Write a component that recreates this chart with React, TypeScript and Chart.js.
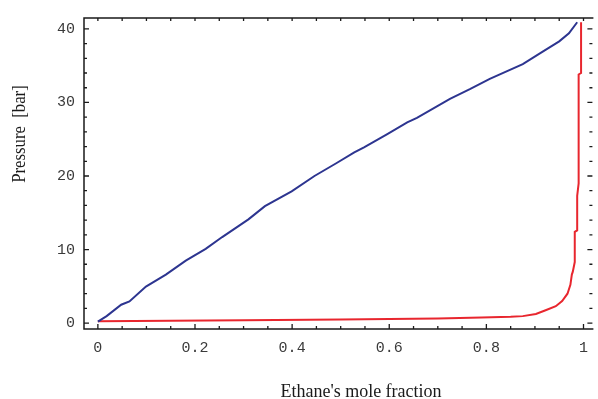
import React, { useEffect, useRef } from "react";
import { Chart, registerables } from "chart.js";

Chart.register(...registerables);

// Blue curve — x: ethane mole fraction, y: pressure [bar]
const blueX = [0, 0.018, 0.048, 0.065, 0.099, 0.14, 0.181, 0.222, 0.256, 0.31, 0.344, 0.399, 0.446, 0.49, 0.528, 0.548, 0.596, 0.637, 0.657, 0.725, 0.766, 0.807, 0.875, 0.916, 0.95, 0.97, 0.987];
const blueY = [0.2, 0.95, 2.5, 2.95, 4.97, 6.6, 8.5, 10.1, 11.7, 14.1, 15.9, 17.9, 20.0, 21.7, 23.2, 23.9, 25.7, 27.3, 27.9, 30.5, 31.8, 33.2, 35.2, 36.9, 38.3, 39.4, 40.9];

// Red curve
const redX = [0, 0.3, 0.5, 0.7, 0.79, 0.85, 0.875, 0.902, 0.922, 0.943, 0.956, 0.967, 0.973, 0.976, 0.978, 0.982, 0.982, 0.987, 0.987, 0.99, 0.99, 0.995, 0.995];
const redY = [0.25, 0.4, 0.5, 0.63, 0.75, 0.85, 0.95, 1.25, 1.75, 2.3, 3.0, 4.0, 5.2, 6.6, 7.0, 8.3, 12.4, 12.6, 17.3, 19, 33.8, 34, 40.9];

const xTicks = [0, 0.2, 0.4, 0.6, 0.8, 1];
const xTickLabels = ["0", "0.2", "0.4", "0.6", "0.8", "1"];
const yTicks = [0, 10, 20, 30, 40];
const yTickLabels = ["0", "10", "20", "30", "40"];
const xMinorStep = 0.05;
const yMinorStep = 2;

const xTitle = "Ethane's mole fraction";
const yTitle = "Pressure  [bar]";

const framePlugin = {
  id: "framePlugin",
  afterDraw(chart: any) {
    const { ctx, chartArea: a, scales } = chart;
    const xs = scales.x;
    const ys = scales.y;
    const right = a.right - 1;
    ctx.save();
    ctx.strokeStyle = "#1a1a1a";
    ctx.lineWidth = 1.5;
    ctx.beginPath();
    ctx.moveTo(right + 1, a.top);
    ctx.lineTo(a.left, a.top);
    ctx.lineTo(a.left, a.bottom);
    ctx.lineTo(right + 1, a.bottom);
    ctx.stroke();
    ctx.lineWidth = 1.3;
    ctx.beginPath();
    for (let i = 0; i <= 20; i++) {
      const v = i * xMinorStep;
      const px = xs.getPixelForValue(v);
      const major = i % 4 === 0;
      const lb = major ? 5 : 3;
      ctx.moveTo(px, a.bottom);
      ctx.lineTo(px, a.bottom - lb);
      ctx.moveTo(px, a.top);
      ctx.lineTo(px, a.top + 3);
    }
    for (let i = 0; i <= 20; i++) {
      const v = i * yMinorStep;
      const py = ys.getPixelForValue(v);
      const major = i % 5 === 0;
      const l = major ? 5 : 3;
      ctx.moveTo(a.left, py);
      ctx.lineTo(a.left + l, py);
      ctx.moveTo(right, py);
      ctx.lineTo(right - l, py);
    }
    ctx.stroke();

    ctx.fillStyle = "#1a1a1a";
    ctx.font = "18px 'Liberation Serif', serif";
    ctx.textAlign = "center";
    ctx.textBaseline = "alphabetic";
    ctx.fillText(xTitle, 361, 397);

    ctx.save();
    ctx.translate(25, 134);
    ctx.rotate(-Math.PI / 2);
    ctx.scale(0.88, 1);
    ctx.font = "19px 'Liberation Serif', serif";
    ctx.textAlign = "center";
    ctx.textBaseline = "alphabetic";
    ctx.fillText(yTitle, 0, 0);
    ctx.restore();
    ctx.restore();
  },
};

export default function App() {
  const ref = useRef<HTMLCanvasElement>(null);
  useEffect(() => {
    document.body.style.margin = "0";
    const blue = blueX.map((x, i) => ({ x, y: blueY[i] }));
    const red = redX.map((x, i) => ({ x, y: redY[i] }));
    const chart = new Chart(ref.current!, {
      type: "scatter",
      data: {
        datasets: [
          { data: blue, showLine: true, borderColor: "#2d3590", borderWidth: 2, pointRadius: 0, tension: 0 },
          { data: red, showLine: true, borderColor: "#e8262e", borderWidth: 2, pointRadius: 0, tension: 0 },
        ],
      },
      options: {
        animation: false,
        responsive: false,
        devicePixelRatio: 1,
        layout: { padding: { top: 13, right: 0, left: 0, bottom: 0 } },
        plugins: { legend: { display: false }, tooltip: { enabled: false } },
        scales: {
          x: {
            type: "linear",
            min: -0.02857,
            max: 1.0204,
            afterBuildTicks: (s: any) => { s.ticks = xTicks.map((v) => ({ value: v })); },
            afterFit: (s: any) => { s.height = 70; },
            grid: { display: false, drawTicks: false },
            border: { display: false },
            ticks: {
              padding: 10,
              color: "#3a3a3a",
              font: { family: "'Liberation Mono', monospace", size: 15 },
              callback: (v: any) => { const i = xTicks.indexOf(Number(v)); return i >= 0 ? xTickLabels[i] : ""; },
              maxRotation: 0,
              autoSkip: false,
            },
          },
          y: {
            type: "linear",
            min: -0.8,
            max: 41.48,
            afterBuildTicks: (s: any) => { s.ticks = yTicks.map((v) => ({ value: v })); },
            afterFit: (s: any) => { s.width = 84; },
            grid: { display: false, drawTicks: false },
            border: { display: false },
            ticks: {
              padding: 9,
              color: "#3a3a3a",
              font: { family: "'Liberation Mono', monospace", size: 15 },
              callback: (v: any) => { const i = yTicks.indexOf(Number(v)); return i >= 0 ? yTickLabels[i] : ""; },
              autoSkip: false,
            },
          },
        },
      },
      plugins: [framePlugin],
    });
    return () => chart.destroy();
  }, []);
  return (
    <div style={{ position: "absolute", left: 0, top: 0, width: 598, height: 399 }}>
      <canvas ref={ref} width={598} height={399} />
    </div>
  );
}
